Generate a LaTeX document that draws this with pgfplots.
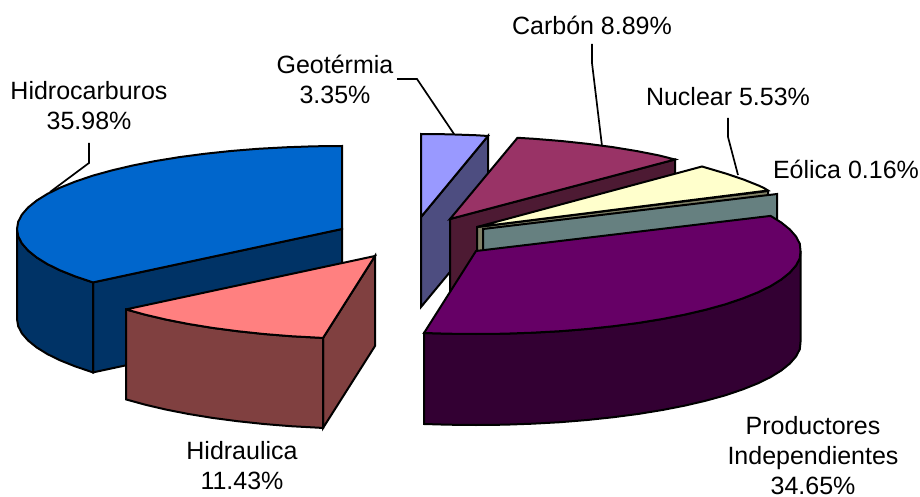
\documentclass[border=0pt]{standalone}
\usepackage{fontspec}
\setmainfont{Liberation Sans}
\usepackage{pgfplots}
\pgfplotsset{compat=1.18}
\definecolor{blueT}{HTML}{0066CC}\definecolor{blueS}{HTML}{003366}
\definecolor{pinkT}{HTML}{FF8080}\definecolor{pinkS}{HTML}{804040}
\definecolor{geoT}{HTML}{9999FF}\definecolor{geoS}{HTML}{4D4D80}
\definecolor{carT}{HTML}{993366}\definecolor{carS}{HTML}{4D1A33}
\definecolor{nucT}{HTML}{FFFFCC}\definecolor{nucS}{HTML}{808066}
\definecolor{eolS}{HTML}{668080}
\definecolor{purT}{HTML}{660066}\definecolor{purS}{HTML}{330033}
\tikzset{face/.style={draw=black, line width=2pt, line join=miter, miter limit=4, fill=#1, mark=none},
  leader/.style={draw=black, line width=1.7pt, mark=none, line join=miter},
  lab/.style={font=\fontsize{25}{30}\selectfont, align=center, anchor=center, inner sep=0pt}}
\begin{document}
\begin{tikzpicture}
\path[use as bounding box] (0,0) rectangle (920pt,497pt);
\begin{axis}[width=920pt, height=497pt, scale only axis, xmin=0, xmax=920, ymin=0, ymax=497, y dir=reverse, hide axis, clip=false]
% Hidrocarburos
\addplot[face=blueS] coordinates {(93,282.4)(342,229)(342,319)(93,372.4)} --cycle;
\addplot[face=blueS] coordinates {(17,229)(18.2,236.2)(21.9,243.4)(28.1,250.5)(36.6,257.4)(47.4,264.1)(60.5,270.5)(75.8,276.6)(93,282.4)
  (93,372.4)(75.8,366.6)(60.5,360.5)(47.4,354.1)(36.6,347.4)(28.1,340.5)(21.9,333.4)(18.2,326.2)(17,319)} --cycle;
\addplot[face=blueT] coordinates {(342,229)(93,282.4)(75.8,276.6)(60.5,270.5)(47.4,264.1)(36.6,257.4)(28.1,250.5)(21.9,243.4)(18.2,236.2)(17,229)
  (18.2,221.8)(21.9,214.6)(28.1,207.5)(36.6,200.6)(47.4,193.9)(60.5,187.5)(75.8,181.4)(93,175.6)(112.2,170.3)(133.1,165.4)(155.6,161)(179.5,157.1)(204.6,153.8)(230.8,151)(257.9,148.8)(285.6,147.3)(313.7,146.3)(342,146)} --cycle;
% Hidraulica
\addplot[face=pinkS] coordinates {(323,338)(375,256)(375,346)(323,428)} --cycle;
\addplot[face=pinkS] coordinates {(126,309.4)(145.2,314.7)(166.1,319.6)(188.6,324)(212.5,327.9)(237.6,331.2)(263.8,334)(290.9,336.2)(318.6,337.7)(323,338)
  (323,428)(318.6,427.7)(290.9,426.2)(263.8,424)(237.6,421.2)(212.5,417.9)(188.6,414)(166.1,409.6)(145.2,404.7)(126,399.4)} --cycle;
\addplot[face=pinkT] coordinates {(375,256)(126,309.4)(145.2,314.7)(166.1,319.6)(188.6,324)(212.5,327.9)(237.6,331.2)(263.8,334)(290.9,336.2)(318.6,337.7)(323,338)} --cycle;
% Geotermia
\addplot[face=geoS] coordinates {(421,217)(488,136)(488,226)(421,307)} --cycle;
\addplot[face=geoT] coordinates {(421,217)(421,134)(449.3,134.3)(477.4,135.3)(488,136)} --cycle;
% Carbon
\addplot[face=carS] coordinates {(450,219)(675,159.5)(675,249.5)(450,309)} --cycle;
\addplot[face=carT] coordinates {(450,219)(517.5,137.8)(534.1,138.8)(561.2,141)(587.4,143.8)(612.5,147.1)(636.4,151)(658.9,155.4)(675,159.5)} --cycle;
% Nuclear
\addplot[face=nucS] coordinates {(477,227)(768,191)(768,281)(477,317)} --cycle;
\addplot[face=nucT] coordinates {(477,227)(702,166.5)(726,173.6)(743.2,179.4)(758.5,185.5)(764,188)(768,190.5)} --cycle;
% Eolica
\addplot[face=eolS] coordinates {(483,229)(777,194)(777,284)(483,319)} --cycle;
% Productores
\addplot[face=purS] coordinates {(800.5,251)(799.8,258.2)(796.1,265.4)(789.9,272.5)(781.4,279.4)(770.6,286.1)(757.5,292.5)(742.2,298.6)(725,304.4)(705.8,309.7)(684.9,314.6)(662.4,319)(638.5,322.9)(613.4,326.2)(587.2,329)(560.1,331.2)(532.4,332.7)(504.3,333.7)(476,334)(447.7,333.7)(424,333)
  (424,424)(447.7,424.7)(476,425)(504.3,424.7)(532.4,423.7)(560.1,422.2)(587.2,420)(613.4,417.2)(638.5,413.9)(662.4,410)(684.9,405.6)(705.8,400.7)(725,395.4)(742.2,389.6)(757.5,383.5)(770.6,377.1)(781.4,370.4)(789.9,363.5)(796.1,356.4)(799.8,349.2)(800.5,342)} --cycle;
\addplot[face=purT] coordinates {(476,251)(770.6,215.9)(781.4,222.6)(789.9,229.5)(796.1,236.6)(799.8,243.8)(800.5,251)(799.8,258.2)(796.1,265.4)(789.9,272.5)(781.4,279.4)(770.6,286.1)(757.5,292.5)(742.2,298.6)(725,304.4)(705.8,309.7)(684.9,314.6)(662.4,319)(638.5,322.9)(613.4,326.2)(587.2,329)(560.1,331.2)(532.4,332.7)(504.3,333.7)(476,334)(447.7,333.7)(424,333)} --cycle;
% leader lines
\addplot[leader] coordinates {(89,143)(89,163)(50,192)};
\addplot[leader] coordinates {(397,79)(417,79)(454,134)};
\addplot[leader] coordinates {(592,44)(592,63)(602,146)};
\addplot[leader] coordinates {(728,118)(728,137)(738,175)};
% labels
\node[lab] at (axis cs:89,106) {Hidrocarburos\\35.98\%};
\node[lab] at (axis cs:335,79) {Geotérmia\\3.35\%};
\node[lab] at (axis cs:592,25) {Carbón 8.89\%};
\node[lab] at (axis cs:728,97) {Nuclear 5.53\%};
\node[lab] at (axis cs:846,169) {Eólica 0.16\%};
\node[lab] at (axis cs:813,455.5) {Productores\\Independientes\\34.65\%};
\node[lab] at (axis cs:242,466) {Hidraulica\\11.43\%};
\end{axis}
\end{tikzpicture}
\end{document}
